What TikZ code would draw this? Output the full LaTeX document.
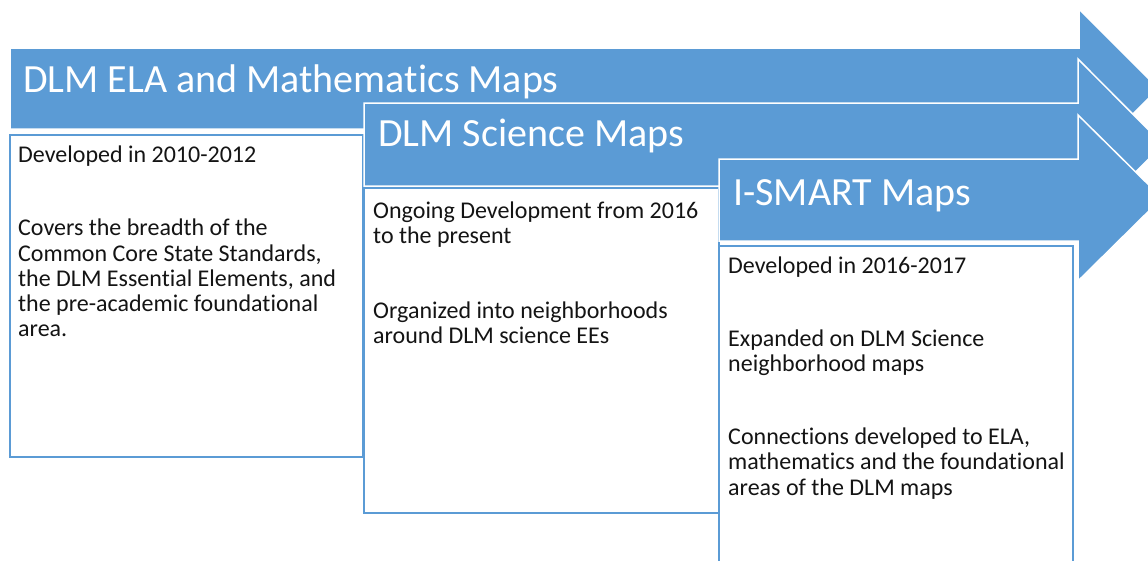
\documentclass[tikz,border=0pt]{standalone}
\usepackage{fontspec}
\setmainfont{Carlito}[Ligatures={NoCommon,NoRare}]
\definecolor{accent}{HTML}{5B9BD5}
\definecolor{ink}{HTML}{141414}
\begin{document}
\begin{tikzpicture}[x=1pt,y=-1pt,
  banner/.style={fill=accent, draw=white, line width=1.5pt, line join=miter},
  panel/.style={fill=white, draw=accent, line width=2pt},
  title/.style={text=white, font=\fontsize{40}{42}\selectfont, anchor=base west, inner sep=0pt},
  body/.style={text=ink, font=\fontsize{24}{25.2}\selectfont, anchor=base west, align=left, inner sep=0pt}]
\useasboundingbox (0,0) rectangle (1148,560);
\clip (0,0) rectangle (1148,560);

% first stage: ELA and mathematics (nodes anchored at the last line's baseline)
\path[banner] (10,48) -- (1079,48) -- (1079,9) -- (1158.5,88.5) -- (1079,168) -- (1079,129) -- (10,129) -- cycle;
\node[title] (t1) at (23,92.7) {DLM ELA and Mathematics Maps};
\draw[panel] (10,135) rectangle (363,457);
\node[body] (b1) at (18,336.7) {Developed in 2010-2012\\[48pt]
Covers the breadth of the\\
Common Core State Standards,\\
the DLM Essential Elements, and\\
the pre-academic foundational\\
area.};

% second stage: science
\path[banner] (364,103) -- (1078,103) -- (1078,59) -- (1163,144.5) -- (1078,230) -- (1078,186) -- (364,186) -- cycle;
\node[title] (t2) at (378,146.7) {DLM Science Maps};
\draw[panel] (364,188) rectangle (719,513);
\node[body] (b2) at (373,343.3) {Ongoing Development from 2016\\
to the present\\[49pt]
Organized into neighborhoods\\
around DLM science EEs};

% third stage: I-SMART
\path[banner] (719,159) -- (1078,159) -- (1078,115) -- (1162,198) -- (1078,281) -- (1078,241) -- (719,241) -- cycle;
\node[title] (t3) at (733,205) {I-SMART Maps};
\draw[panel] (719,246) rectangle (1073,590);
\node[body] (b3) at (728,495) {Developed in 2016-2017\\[47.5pt]
Expanded on DLM Science\\
neighborhood maps\\[48pt]
Connections developed to ELA,\\
mathematics and the foundational\\
areas of the DLM maps};
\end{tikzpicture}
\end{document}
